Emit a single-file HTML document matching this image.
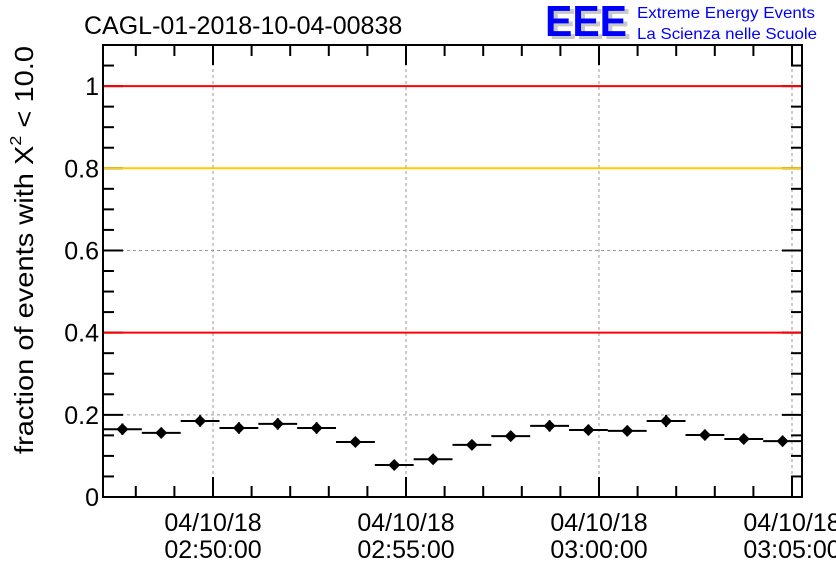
<!DOCTYPE html>
<html><head><meta charset="utf-8"><style>
body{margin:0;background:#fff;}
svg{display:block;font-family:"Liberation Sans",sans-serif;}
</style></head><body>
<svg id="chart" width="836" height="572" viewBox="0 0 836 572">
<text x="84" y="34" font-size="25">CAGL-01-2018-10-04-00838</text>
<g>
<text x="549" y="39" font-size="44" font-weight="bold" fill="#c8c8c8" textLength="82" lengthAdjust="spacingAndGlyphs">EEE</text>
<text x="545" y="36" font-size="44" font-weight="bold" fill="#0000ff" textLength="82" lengthAdjust="spacingAndGlyphs">EEE</text>
<text x="637" y="18" font-size="16" fill="#0000ff" textLength="178" lengthAdjust="spacingAndGlyphs">Extreme Energy Events</text>
<text x="637" y="39" font-size="16" fill="#0000ff" textLength="180" lengthAdjust="spacingAndGlyphs">La Scienza nelle Scuole</text>
</g>
<text transform="translate(33,250) rotate(-90)" text-anchor="middle" font-size="26" textLength="408" lengthAdjust="spacingAndGlyphs">fraction of events with Χ<tspan font-size="16" dy="-12">2</tspan><tspan dy="12"> &lt; 10.0</tspan></text>
<g id="grid"></g>
<g id="axes"></g>
<g id="lines"></g>
<g id="marks"></g>
</svg>
<script>
const categories = ["02:47","02:48","02:49","02:50","02:51","02:52","02:53","02:54","02:55","02:56","02:57","02:58","02:59","03:00","03:01","03:02","03:03","03:04"];
const values = [0.165,0.156,0.185,0.168,0.178,0.168,0.134,0.078,0.092,0.127,0.148,0.173,0.163,0.161,0.185,0.151,0.141,0.136];
const errors = [0.014,0.013,0.014,0.014,0.014,0.014,0.010,0.006,0.007,0.010,0.012,0.014,0.013,0.013,0.015,0.013,0.012,0.013];
const yTicks = [0,0.2,0.4,0.6,0.8,1];
const yTickLabels = ["0","0.2","0.4","0.6","0.8","1"];
const xTickMinutes = [0,5,10,15];
const xTickLabels = [["04/10/18","02:50:00"],["04/10/18","02:55:00"],["04/10/18","03:00:00"],["04/10/18","03:05:00"]];
const refLines = [1.0,0.8,0.4];
const refColors = ["#ff0000","#ffcc00","#ff0000"];

const L=103,R=802,T=45,B=497,YMAX=1.1;
const MINW=38.6;
const y=v=>B-(v/YMAX)*(B-T);
const xm=m=>213+m*MINW;
const NS="http://www.w3.org/2000/svg";
function mk(parent,tag,attrs){const e=document.createElementNS(NS,tag);for(const k in attrs)e.setAttribute(k,attrs[k]);document.getElementById(parent).appendChild(e);return e;}

yTicks.forEach(v=>{if(v>0){const g=mk('grid','line',{x1:L,x2:R,y1:y(v),y2:y(v),stroke:'#999','stroke-dasharray':'3,3'});

}});
xTickMinutes.forEach(m=>{const g=mk('grid','line',{x1:xm(m),x2:xm(m),y1:T,y2:B,stroke:'#999','stroke-dasharray':'3,3'});

});
refLines.forEach((v,i)=>{const l=mk('lines','line',{x1:L+1,x2:R-1,y1:y(v),y2:y(v),stroke:refColors[i],'stroke-width':2});

});

const bw=(R-L)/values.length;
values.forEach((v,i)=>{
  const cx=L+bw*(i+0.5), cy=y(v);
  const g=mk('marks','g',{});
  
  
  const h=document.createElementNS(NS,'line');
  [['x1',L+bw*i],['x2',L+bw*(i+1)],['y1',cy],['y2',cy],['stroke','#000'],['stroke-width',2]].forEach(a=>h.setAttribute(a[0],a[1]));g.appendChild(h);
  const ev=document.createElementNS(NS,'line');
  [['x1',cx],['x2',cx],['y1',y(v+errors[i])],['y2',y(v-errors[i])],['stroke','#000'],['stroke-width',2]].forEach(a=>ev.setAttribute(a[0],a[1]));g.appendChild(ev);
  const d=document.createElementNS(NS,'path');
  d.setAttribute('d',`M${cx},${cy-6}L${cx+6},${cy}L${cx},${cy+6}L${cx-6},${cy}Z`);d.setAttribute('fill','#000');g.appendChild(d);
});

const fr=mk('axes','rect',{x:L,y:T,width:R-L,height:B-T,fill:'none',stroke:'#000','stroke-width':2});


for(let k=0;k<=22;k++){const v=k*0.05;const yy=y(v);const maj=(k%4===0);const len=maj?20:11;
  mk('axes','line',{x1:L,x2:L+len,y1:yy,y2:yy,stroke:'#000','stroke-width':2});
  mk('axes','line',{x1:R,x2:R-len,y1:yy,y2:yy,stroke:'#000','stroke-width':2});}
for(let m=-2;m<=15;m++){const xx=xm(m);if(xx>R)continue;const maj=(m%5===0);const len=maj?20:11;
  mk('axes','line',{x1:xx,x2:xx,y1:B,y2:B-len,stroke:'#000','stroke-width':2});
  mk('axes','line',{x1:xx,x2:xx,y1:T,y2:T+len,stroke:'#000','stroke-width':2});}
yTicks.forEach((v,i)=>{const t=mk('axes','text',{x:L-4,y:y(v)+9,'text-anchor':'end','font-size':25});t.textContent=yTickLabels[i];

});
xTickMinutes.forEach((m,i)=>{
  const t1=mk('axes','text',{x:xm(m),y:531,'text-anchor':'middle','font-size':25});t1.textContent=xTickLabels[i][0];
  
  
  const t2=mk('axes','text',{x:xm(m),y:558,'text-anchor':'middle','font-size':25});t2.textContent=xTickLabels[i][1];
  
  
});
</script>
</body></html>
